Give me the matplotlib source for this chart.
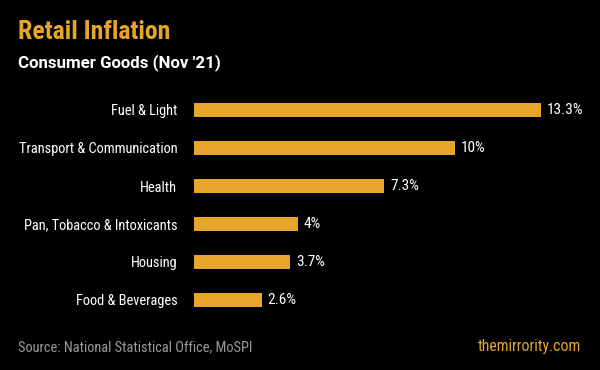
import matplotlib.pyplot as plt

categories = ['Fuel & Light', 'Transport & Communication', 'Health',
              'Pan, Tobacco & Intoxicants', 'Housing', 'Food & Beverages']
values = [13.3, 10, 7.3, 4, 3.7, 2.6]
value_labels = ['13.3%', '10%', '7.3%', '4%', '3.7%', '2.6%']

ORANGE = '#E5A52B'
W, H = 600, 370

plt.rcParams['font.family'] = ['Roboto Condensed', 'Roboto', 'DejaVu Sans']

fig = plt.figure(figsize=(W / 100, H / 100), dpi=100, facecolor='black')

# axes placed in pixel terms: x=0 at 194px, 26.1px per unit; rows 38px apart
ax = fig.add_axes([194 / W, 1 - 319 / H, 365 / W, 228 / H])
ax.set_facecolor('black')
ypos = list(range(len(categories)))
ax.barh(ypos, values, height=0.37, color=ORANGE)
ax.set_xlim(0, 14)
ax.set_ylim(len(categories) - 0.5, -0.5)

for y, v, lab in zip(ypos, values, value_labels):
    ax.annotate(lab, (v, y), xytext=(4, 0), textcoords='offset points',
                va='center', ha='left', color='white', fontsize=11)

ax.set_yticks(ypos)
ax.set_yticklabels(categories, color='white', fontsize=10.4)
ax.tick_params(axis='y', length=0, pad=12)
ax.set_xticks([])
for s in ax.spines.values():
    s.set_visible(False)

# title block
fig.text(18 / W, 1 - 32 / H, 'Retail Inflation', color=ORANGE,
         fontweight='bold', fontsize=18.5, va='center', ha='left')
fig.text(18 / W, 1 - 63 / H, "Consumer Goods (Nov '21)", color='white',
         family=['Roboto', 'DejaVu Sans'], fontsize=12.2, fontweight='bold',
         va='center', ha='left')

# footer
fig.text(18 / W, 1 - 347 / H, 'Source: National Statistical Office, MoSPI',
         color='#9a9a9a', fontsize=10.4, va='center', ha='left')
fig.text(581 / W, 1 - 347 / H, 'themirrority.com', color=ORANGE,
         fontsize=11.3, va='center', ha='right')

fig.savefig('out.png', dpi=100, facecolor='black')
